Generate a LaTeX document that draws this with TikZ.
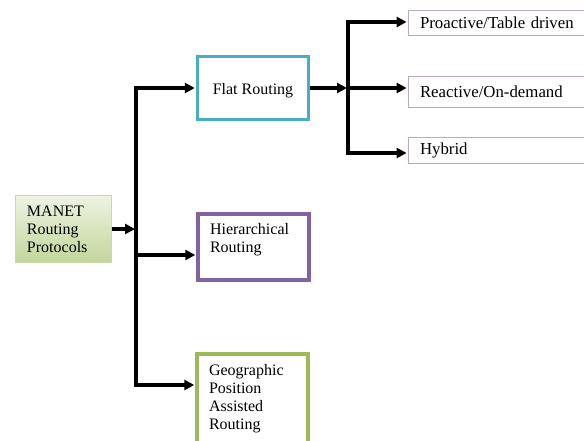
\documentclass[tikz,border=0pt]{standalone}
\usepackage{fontspec}
\setmainfont{Liberation Serif}
\usetikzlibrary{arrows.meta}
\definecolor{rootlight}{HTML}{EEF3E2}
\definecolor{rootdark}{HTML}{C2D69A}
\definecolor{rootedge}{HTML}{C9DAA8}
\definecolor{flatcyan}{HTML}{4BACC6}
\definecolor{hierpurple}{HTML}{8064A2}
\definecolor{geogreen}{HTML}{9BBB59}
\definecolor{typeedge}{HTML}{B8A9CF}
\tikzset{
  classbox/.style={rectangle, line width=3.5pt, inner xsep=12pt, inner ysep=0pt},
  typebox/.style={rectangle, draw=typeedge, line width=0.8pt, inner xsep=12pt, inner ysep=0pt, text width=168pt, align=left, font=\fontsize{16.8}{18}\selectfont},
  spine/.style={line width=4pt, line cap=rect},
  branch/.style={line width=3.5pt, -{Triangle[length=10pt,width=10pt]}, shorten >=1pt}
}
\newcommand{\manetroot}[3] {\node at (#1) (#2) [rectangle, draw=rootedge, line width=1pt, top color=rootlight, bottom color=rootdark, minimum width=96pt, minimum height=67pt, inner xsep=12pt, text width=72pt, align=left] {#3};}
\newcommand{\routeclass}[6] {\node at (#1) (#2) [classbox, draw=#3] {\parbox[c][#4][#5]{87pt}{\raggedright #6}};}
\newcommand{\routetype}[4] {\node at (#1) (#2) [typebox, minimum height=#3] {#4};}

\begin{document}
\begin{tikzpicture}[x=1pt, y=-1pt, every node/.style={font=\fontsize{16}{18}\selectfont}]
\useasboundingbox (0,0) rectangle (584,440);

\manetroot {63,229}{manet}{MANET\\Routing\\Protocols}

\routeclass {253,88}{flat}{flatcyan}{63pt}{c}{\centering\vspace*{6pt}Flat Routing}
\routeclass {253.5,247}{hier}{hierpurple}{66pt}{t}{\vspace*{9pt}Hierarchical\\Routing}
\routeclass {252.5,400}{geo}{geogreen}{92pt}{t}{\vspace*{10pt}Geographic\\Position\\Assisted\\Routing}

\routetype {504,22.5}{proactive}{25pt}{Proactive/Table driven}
\routetype {504,91.5}{reactive}{31pt}{Reactive/On-demand}
\routetype {504,150}{hybrid}{26pt}{\raisebox{-2pt}{Hybrid}}

\coordinate (rootjoin) at (136,229);
\coordinate (classtop) at (136,88);
\coordinate (classmid) at (136,255);
\coordinate (classbot) at (136,385);
\coordinate (flatjoin) at (348,88);
\coordinate (typetop) at (348,22);
\coordinate (typebot) at (348,153);

\draw [spine] (classtop) -- (classbot);
\draw [branch] (manet) -- (rootjoin);
\draw [branch] (classtop) -- (flat);
\draw [branch] (classmid) -- (classmid -| hier.west);
\draw [branch] (classbot) -- (classbot -| geo.west);

\draw [branch] (flat) -- (flatjoin);
\draw [spine] (typetop) -- (typebot);
\draw [branch] (typetop) -- (typetop -| proactive.west);
\draw [branch] (flatjoin) -- (flatjoin -| reactive.west);
\draw [branch] (typebot) -- (typebot -| hybrid.west);

\end{tikzpicture}
\end{document}
